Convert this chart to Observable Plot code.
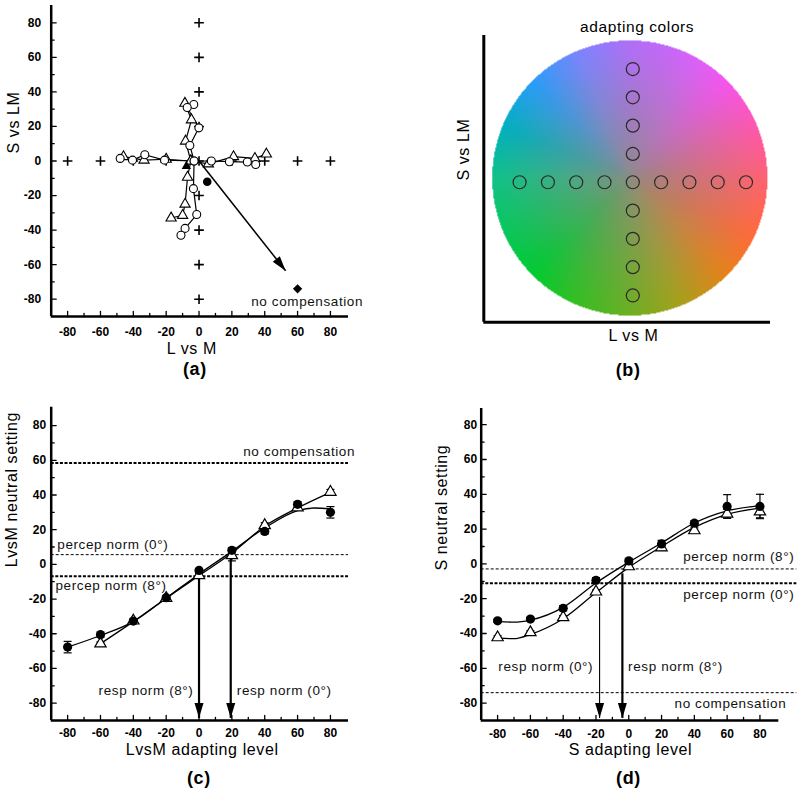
<!DOCTYPE html>
<html><head><meta charset="utf-8">
<script src="https://cdn.jsdelivr.net/npm/d3@7"></script>
<script src="https://cdn.jsdelivr.net/npm/@observablehq/plot@0.6"></script>
<style>
html,body{margin:0;padding:0;background:#fff;}
#root{position:relative;width:803px;height:803px;overflow:hidden;background:#fff;}
#root svg{position:absolute;overflow:visible;}
#root g[aria-label="text"] text{letter-spacing:0.6px;}
</style></head>
<body><div id="root"></div>
<script>
// ---------------- shared ----------------
const levels = [-80, -60, -40, -20, 0, 20, 40, 60, 80];
const majorTicks = [-80, -60, -40, -20, 0, 20, 40, 60, 80];
const minorTicks = [-70, -50, -30, -10, 10, 30, 50, 70];

// ---------------- panel (a) ----------------
const aLvsMCircX = [-48, -40.5, -33, -21, -3, 7.5, 18.5, 29.4, 34.5];
const aLvsMCircY = [1.5, 0.5, 3.6, 0.5, 0, 0, -0.4, -0.6, -2];
const aLvsMTriX = [-46, -33.5, -20, -5, 5.7, 21, 34, 41];
const aLvsMTriY = [2.5, 0.5, 1, 0, -1.7, 2.5, 1.5, 4];
const aSCircX = [-3.2, -7.2, -0.1, -5.6, -3, -3.4, -1.4, -8.5, -11];
const aSCircY = [32.7, 31, 19.2, 9, 0, -16, -31, -39, -43];
const aSTriX = [-8.6, -4.6, -8.2, -5, -7, -8.5, -10, -17];
const aSTriY = [33.4, 23.8, 11.5, 0, -9.4, -25, -31.5, -33];
const aFilledCircle = [5, -12];
const aFilledTriangle = [-7.7, -3];
const aNoComp = [60, -74];
const aArrowFrom = [0, 0];
const aArrowTo = [52.7, -63.5];
const aNote = {text: "no compensation", x: 31.8, y: -81.3};

// ---------------- panel (b) ----------------
const bDiskCenter = [-2.1, 3.0];
const bDiskRadius = 97.2;
const bRimAngles = [0, 20, 45, 62, 90, 112, 135, 158, 180, 225, 245, 270, 292, 315, 335, 360];
const bRimColors = ["#ff6272", "#ff58a8", "#f654ee", "#d862fa", "#b06ef8", "#7c84ff", "#2a9cfa",
                    "#00b0c0", "#10c288", "#00cc30", "#30c022", "#6cb022", "#a8a01a", "#e8821a",
                    "#ff6a3a", "#ff6272"];
const bCenterColor = "#8c8c82";

// ---------------- panel (c) ----------------
const cCircX = [-80, -60, -40, -20, 0, 20, 40, 60, 80];
const cCircY = [-47.7, -40.5, -32.7, -19.2, -3.5, 8.1, 19, 34.6, 30];
const cCircErr = [3.3, 1.5, 1, 1, 1, 1.5, 1.5, 1.5, 3.3];
const cTriX = [-60, -40, -20, 0, 20, 40, 60, 80];
const cTriY = [-45.7, -32.5, -19.5, -6.3, 5.2, 22.5, 32.7, 41.7];
const cTriErr = [1, 1, 1, 1, 3.2, 1.5, 1, 1.5];
const cFitCircX = [-80, -60, -40, -20, 0, 20, 40, 60, 70, 80];
const cFitCircY = [-47.7, -41, -33, -19.5, -5.5, 7.5, 21, 31, 32.5, 32];
const cFitTriX = [-60, -40, -20, 0, 20, 40, 60, 80];
const cFitTriY = [-45.7, -33, -19.5, -6.5, 6.5, 22, 32.5, 41.5];
const cRefY = [58.4, 5.6, -6.9];              // no compensation, percep norm 0°, percep norm 8°
const cRefBold = [true, false, true];
const cLabelsStart = [
  {text: "percep norm (0°)", x: -86.3, y: 11.5},
  {text: "percep norm (8°)", x: -87.4, y: -12.5},
  {text: "resp norm (0°)", x: 23, y: -72.6}
];
const cLabelsEnd = [
  {text: "no compensation", x: 95, y: 64.7},
  {text: "resp norm (8°)", x: -3.4, y: -72.6}
];
const cArrowX = [0, 19.3];
const cArrowTop = [-6.5, 4];
const cArrowBold = [true, true];
const arrowTip = -88.5;

// ---------------- panel (d) ----------------
const dCircX = [-80, -60, -40, -20, 0, 20, 40, 60, 80];
const dCircY = [-32.7, -31.7, -25.5, -9.4, 1.7, 11.5, 23.4, 33, 33];
const dCircErr = [1, 1, 1.5, 1.5, 1.5, 2, 1.5, 6.8, 7];
const dTriX = [-80, -60, -40, -20, 0, 20, 40, 60, 80];
const dTriY = [-42.3, -39.4, -30.7, -16, -1.5, 9.4, 19.2, 28.8, 30];
const dTriErr = [1, 1, 1, 1, 1, 1.5, 1.5, 2.5, 3.5];
const dFitX = [-80, -70, -60, -40, -20, 0, 20, 40, 60, 80];
const dFitCircY = [-33, -33.5, -32.3, -25, -11, 1, 12, 23.5, 30.5, 33.5];
const dFitTriY = [-42.5, -43, -40.5, -31.5, -16.5, -2, 10, 21, 28.5, 32];
const dRefY = [-2.9, -11.1, -74];             // percep norm 8°, percep norm 0°, no compensation
const dRefBold = [false, true, false];
const dRefExtent = [-90, 102.5];
const dLabelsStart = [
  {text: "percep norm (8°)", x: 33.2, y: 3.9},
  {text: "percep norm (0°)", x: 33.2, y: -17.5},
  {text: "no compensation", x: 27.9, y: -80.3},
  {text: "resp norm (8°)", x: -0.4, y: -59.2}
];
const dLabelsEnd = [
  {text: "resp norm (0°)", x: -21.7, y: -59.2}
];
const dArrowX = [-17.8, -3.9];
const dArrowTop = [-19, -5.4];
const dArrowBold = [false, true];

// ---------------- helpers ----------------
const FONT = '"Liberation Sans", Arial, Helvetica, sans-serif';
const root = document.getElementById("root");
const pts = (xs, ys, es) => xs.map((x, i) => ({x, y: ys[i], e: es ? es[i] : 0}));
const headSymbol = {draw(ctx) { ctx.moveTo(0, 0); ctx.lineTo(-4.5, -15); ctx.lineTo(4.5, -15); ctx.closePath(); }};
const capSymbol = {draw(ctx) { ctx.moveTo(-4, 0); ctx.lineTo(4, 0); }};
const tickShape = {draw(ctx, l) { ctx.moveTo(0, 0); ctx.lineTo(0, -l); }};
const fmt = d => String(d);

function frameAxes(xd, yd, xOff, yOff) {
  return [
    Plot.axisX({ticks: majorTicks, tickSize: 0, tickPadding: xOff, tickFormat: fmt, fontSize: 12, fontWeight: "bold", label: null}),
    Plot.axisY({ticks: majorTicks, tickSize: 0, tickPadding: yOff, tickFormat: fmt, fontSize: 12, fontWeight: "bold", label: null}),
    Plot.vector(majorTicks, {x: d => d, y: () => yd[0], length: 5, rotate: 0, anchor: "start", shape: tickShape, strokeWidth: 1.3, stroke: "black"}),
    Plot.vector(minorTicks, {x: d => d, y: () => yd[0], length: 3, rotate: 0, anchor: "start", shape: tickShape, strokeWidth: 1.3, stroke: "black"}),
    Plot.vector(majorTicks, {x: () => xd[0], y: d => d, length: 5, rotate: 90, anchor: "start", shape: tickShape, strokeWidth: 1.3, stroke: "black"}),
    Plot.vector(minorTicks, {x: () => xd[0], y: d => d, length: 3, rotate: 90, anchor: "start", shape: tickShape, strokeWidth: 1.3, stroke: "black"}),
    Plot.ruleX([xd[0]], {strokeWidth: 2.5}),
    Plot.ruleY([yd[0]], {strokeWidth: 2.5})
  ];
}
function mk(opts, left, top) {
  const svg = Plot.plot({...opts, style: {background: "transparent", fontFamily: FONT, overflow: "visible"}});
  svg.style.left = left + "px";
  svg.style.top = top + "px";
  root.appendChild(svg);
}
function errorMarks(data) {
  return [
    Plot.ruleX(data, {x: "x", y1: d => d.y - d.e, y2: d => d.y + d.e, strokeWidth: 1.2}),
    Plot.dot(data, {x: "x", y: d => d.y + d.e, symbol: capSymbol, stroke: "black", fill: "none", strokeWidth: 1.2}),
    Plot.dot(data, {x: "x", y: d => d.y - d.e, symbol: capSymbol, stroke: "black", fill: "none", strokeWidth: 1.2})
  ];
}
function arrowMarks(xs, tops, bolds) {
  const data = xs.map((x, i) => ({x, top: tops[i], bold: bolds[i]}));
  return [
    Plot.link(data.filter(d => d.bold), {x1: "x", x2: "x", y1: "top", y2: arrowTip, strokeWidth: 2.2}),
    Plot.link(data.filter(d => !d.bold), {x1: "x", x2: "x", y1: "top", y2: arrowTip, strokeWidth: 1.1}),
    Plot.dot(data, {x: "x", y: () => arrowTip, symbol: headSymbol, fill: "black", stroke: "none"})
  ];
}
const annoStyle = {fontSize: 13.5, fill: "#111"};

// ---------------- draw (a) ----------------
{
  const W = 400, H = 400, ML = 50.7, MR = 52, MT = 5, MB = 84;
  const xd = [-90, 91], yd = [-90, 90];
  const sx = (W - ML - MR) / (xd[1] - xd[0]), sy = (H - MT - MB) / (yd[1] - yd[0]);
  const rot = -Math.atan2((aArrowTo[0] - aArrowFrom[0]) * sx, (aArrowFrom[1] - aArrowTo[1]) * sy) * 180 / Math.PI;
  const grid = [...levels.map(l => ({x: l, y: 0})), ...levels.filter(l => l !== 0).map(l => ({x: 0, y: l}))];
  const openDot = {stroke: "black", fill: "white", strokeWidth: 1.1};
  mk({
    width: W, height: H, marginLeft: ML, marginRight: MR, marginTop: MT, marginBottom: MB,
    x: {domain: xd, axis: null}, y: {domain: yd, axis: null},
    marks: [
      ...frameAxes(xd, yd, 10.5, 10),
      Plot.dot(grid, {x: "x", y: "y", symbol: "plus", r: 3.2, stroke: "black", strokeWidth: 1.6}),
      Plot.link([{a: aArrowFrom, b: aArrowTo}], {x1: d => d.a[0], y1: d => d.a[1], x2: d => d.b[0], y2: d => d.b[1], strokeWidth: 1.5}),
      Plot.dot([aArrowTo], {x: d => d[0], y: d => d[1], symbol: headSymbol, rotate: rot, fill: "black", stroke: "none"}),
      Plot.line(pts(aLvsMCircX, aLvsMCircY), {x: "x", y: "y", strokeWidth: 1.2}),
      Plot.line(pts(aLvsMTriX, aLvsMTriY), {x: "x", y: "y", strokeWidth: 1.2}),
      Plot.line(pts(aSCircX, aSCircY), {x: "x", y: "y", strokeWidth: 1.2}),
      Plot.line(pts(aSTriX, aSTriY), {x: "x", y: "y", strokeWidth: 1.2}),
      Plot.dot(pts(aLvsMTriX, aLvsMTriY), {x: "x", y: "y", symbol: "triangle", r: 3.8, ...openDot}),
      Plot.dot(pts(aSTriX, aSTriY), {x: "x", y: "y", symbol: "triangle", r: 3.8, ...openDot}),
      Plot.dot(pts(aLvsMCircX, aLvsMCircY), {x: "x", y: "y", r: 4, ...openDot}),
      Plot.dot(pts(aSCircX, aSCircY), {x: "x", y: "y", r: 4, ...openDot}),
      Plot.dot([aFilledTriangle], {x: d => d[0], y: d => d[1], symbol: "triangle2", r: 4.5, fill: "black"}),
      Plot.dot([aFilledCircle], {x: d => d[0], y: d => d[1], r: 4.3, fill: "black"}),
      Plot.dot([aNoComp], {x: d => d[0], y: d => d[1], symbol: "diamond2", r: 4.2, fill: "black"}),
      Plot.text([aNote], {x: "x", y: "y", text: "text", textAnchor: "start", ...annoStyle}),
      Plot.text(["L vs M"], {frameAnchor: "bottom", dx: -8, dy: 37, fontSize: 16}),
      Plot.text(["S vs LM"], {frameAnchor: "left", dx: -37.4, dy: -7.5, rotate: -90, fontSize: 16}),
      Plot.text(["(a)"], {frameAnchor: "bottom", dx: -5, dy: 58, fontSize: 18, fontWeight: "bold"})
    ]
  }, 0, 0);
}

// ---------------- draw (b) ----------------
{
  const W = 403, H = 400, ML = 83.3, MR = 33, MT = 35, MB = 78.3;
  const xd = [-105.3, 97.3], yd = [-98.9, 103.7];
  const [cx, cy] = bDiskCenter, R = bDiskRadius;
  function diskColor(x, y) {
    const dx = x - cx, dy = y - cy;
    const r = Math.hypot(dx, dy) / R;
    if (r > 1) return null;
    let a = Math.atan2(dy, dx) * 180 / Math.PI;
    if (a < 0) a += 360;
    let i = 0;
    while (i < bRimAngles.length - 2 && a > bRimAngles[i + 1]) i++;
    const t = (a - bRimAngles[i]) / (bRimAngles[i + 1] - bRimAngles[i]);
    const rim = d3.interpolateRgb(bRimColors[i], bRimColors[i + 1])(t);
    return d3.interpolateRgb(bCenterColor, rim)(Math.pow(r, 0.75));
  }
  const cross = [...levels.map(l => ({x: l, y: 0})), ...levels.filter(l => l !== 0).map(l => ({x: 0, y: l}))];
  mk({
    width: W, height: H, marginLeft: ML, marginRight: MR, marginTop: MT, marginBottom: MB,
    x: {domain: xd, axis: null}, y: {domain: yd, axis: null},
    color: {type: "identity"},
    marks: [
      Plot.raster({x1: cx - R, x2: cx + R, y1: cy - R, y2: cy + R, fill: diskColor, pixelSize: 1}),
      Plot.dot(cross, {x: "x", y: "y", r: 6.5, stroke: "#2a2a2a", strokeWidth: 1.2, fill: "none"}),
      Plot.ruleX([xd[0]], {strokeWidth: 3}),
      Plot.ruleY([yd[0]], {strokeWidth: 3}),
      Plot.text(["adapting colors"], {frameAnchor: "top", dx: 10, dy: -15, fontSize: 15.5}),
      Plot.text(["L vs M"], {frameAnchor: "bottom", dx: 6.3, dy: 18.3, fontSize: 16}),
      Plot.text(["S vs LM"], {frameAnchor: "left", dx: -20.3, dy: 1.7, rotate: -90, fontSize: 16}),
      Plot.text(["(b)"], {frameAnchor: "bottom", dx: 1, dy: 53.3, fontSize: 18, fontWeight: "bold"})
    ]
  }, 400, 0);
}

// ---------------- draw (c) ----------------
{
  const W = 400, H = 403, ML = 50.7, MR = 52, MT = 6.7, MB = 83;
  const xd = [-90, 91], yd = [-90, 90.6];
  const refs = cRefY.map((y, i) => ({y, bold: cRefBold[i]}));
  mk({
    width: W, height: H, marginLeft: ML, marginRight: MR, marginTop: MT, marginBottom: MB,
    x: {domain: xd, axis: null}, y: {domain: yd, axis: null},
    marks: [
      ...frameAxes(xd, yd, 8.4, 5),
      Plot.ruleY(refs.filter(d => d.bold), {y: "y", strokeWidth: 2, strokeDasharray: "3,1.6"}),
      Plot.ruleY(refs.filter(d => !d.bold), {y: "y", strokeWidth: 1, strokeDasharray: "3,2"}),
      Plot.line(pts(cFitCircX, cFitCircY), {x: "x", y: "y", curve: "monotone-x", strokeWidth: 1.3}),
      Plot.line(pts(cFitTriX, cFitTriY), {x: "x", y: "y", curve: "monotone-x", strokeWidth: 1.3}),
      ...arrowMarks(cArrowX, cArrowTop, cArrowBold),
      ...errorMarks(pts(cTriX, cTriY, cTriErr)),
      ...errorMarks(pts(cCircX, cCircY, cCircErr)),
      Plot.dot(pts(cTriX, cTriY), {x: "x", y: "y", symbol: "triangle", r: 4.2, fill: "white", stroke: "black", strokeWidth: 1.2}),
      Plot.dot(pts(cCircX, cCircY), {x: "x", y: "y", r: 4.6, fill: "black"}),
      Plot.text(cLabelsStart, {x: "x", y: "y", text: "text", textAnchor: "start", ...annoStyle}),
      Plot.text(cLabelsEnd, {x: "x", y: "y", text: "text", textAnchor: "end", ...annoStyle}),
      Plot.text(["LvsM adapting level"], {frameAnchor: "bottom", dx: 2.3, dy: 34, fontSize: 16}),
      Plot.text(["LvsM neutral setting"], {frameAnchor: "left", dx: -39, dy: 3.4, rotate: -90, fontSize: 16}),
      Plot.text(["(c)"], {frameAnchor: "bottom", dx: -1, dy: 63, fontSize: 18, fontWeight: "bold"})
    ]
  }, 0, 400);
}

// ---------------- draw (d) ----------------
{
  const W = 403, H = 403, ML = 80.7, MR = 24.7, MT = 8, MB = 83;
  const xd = [-90, 91.5], yd = [-90, 89.3];
  const refs = dRefY.map((y, i) => ({y, bold: dRefBold[i]}));
  mk({
    width: W, height: H, marginLeft: ML, marginRight: MR, marginTop: MT, marginBottom: MB,
    x: {domain: xd, axis: null}, y: {domain: yd, axis: null},
    marks: [
      ...frameAxes(xd, yd, 9, 4),
      Plot.ruleY(refs.filter(d => d.bold), {y: "y", x1: dRefExtent[0], x2: dRefExtent[1], strokeWidth: 2, strokeDasharray: "3,1.6"}),
      Plot.ruleY(refs.filter(d => !d.bold), {y: "y", x1: dRefExtent[0], x2: dRefExtent[1], strokeWidth: 1, strokeDasharray: "3,2"}),
      Plot.line(pts(dFitX, dFitCircY), {x: "x", y: "y", curve: "monotone-x", strokeWidth: 1.3}),
      Plot.line(pts(dFitX, dFitTriY), {x: "x", y: "y", curve: "monotone-x", strokeWidth: 1.3}),
      ...arrowMarks(dArrowX, dArrowTop, dArrowBold),
      ...errorMarks(pts(dTriX, dTriY, dTriErr)),
      ...errorMarks(pts(dCircX, dCircY, dCircErr)),
      Plot.dot(pts(dTriX, dTriY), {x: "x", y: "y", symbol: "triangle", r: 4.2, fill: "white", stroke: "black", strokeWidth: 1.2}),
      Plot.dot(pts(dCircX, dCircY), {x: "x", y: "y", r: 4.6, fill: "black"}),
      Plot.text(dLabelsStart, {x: "x", y: "y", text: "text", textAnchor: "start", ...annoStyle}),
      Plot.text(dLabelsEnd, {x: "x", y: "y", text: "text", textAnchor: "end", ...annoStyle}),
      Plot.text(["S adapting level"], {frameAnchor: "bottom", dx: 0.5, dy: 34, fontSize: 16}),
      Plot.text(["S neutral setting"], {frameAnchor: "left", dx: -39, dy: 6, rotate: -90, fontSize: 16}),
      Plot.text(["(d)"], {frameAnchor: "bottom", dx: -1.5, dy: 63, fontSize: 18, fontWeight: "bold"})
    ]
  }, 400, 400);
}
</script>
</body></html>
